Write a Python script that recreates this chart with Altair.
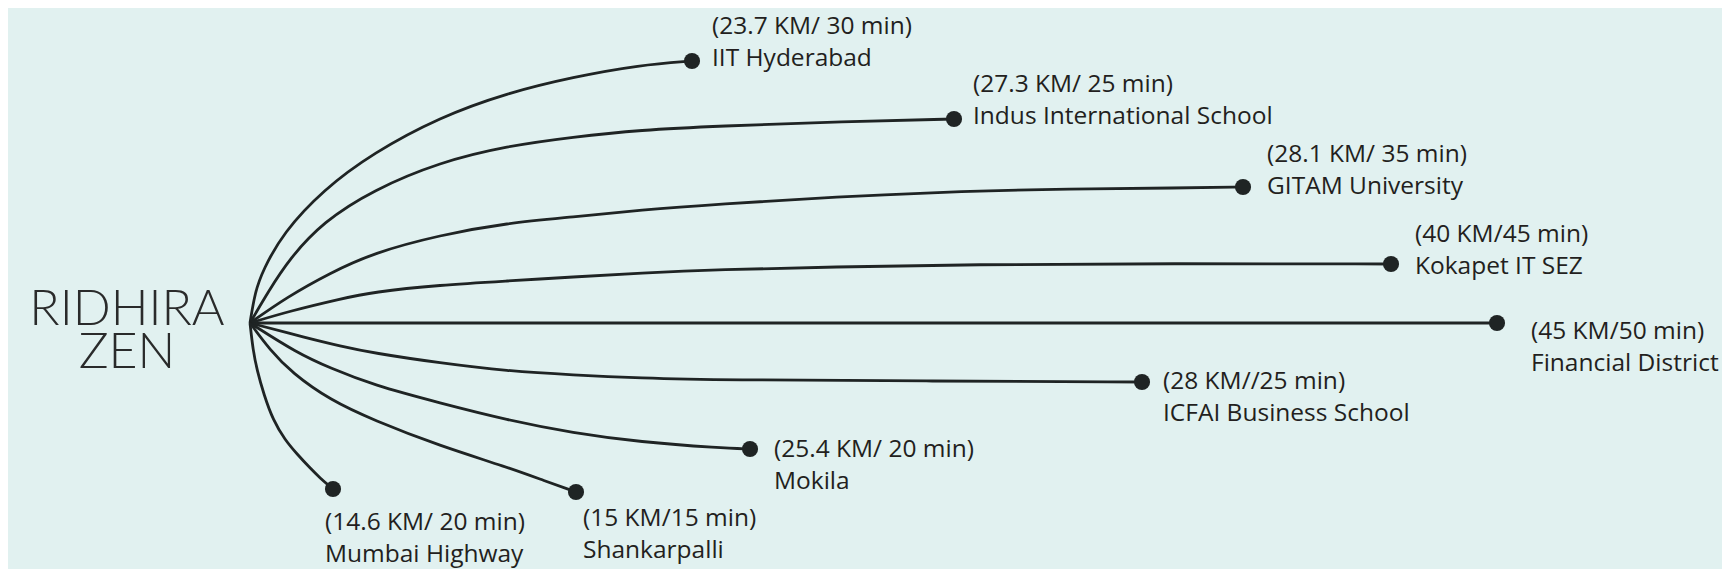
import altair as alt
import pandas as pd

# destinations
names = ["IIT Hyderabad", "Indus International School", "GITAM University", "Kokapet IT SEZ",
         "Financial District", "ICFAI Business School", "Mokila", "Shankarpalli", "Mumbai Highway"]
trips = ["(23.7 KM/ 30 min)", "(27.3 KM/ 25 min)", "(28.1 KM/ 35 min)", "(40 KM/45 min)",
         "(45 KM/50 min)", "(28 KM//25 min)", "(25.4 KM/ 20 min)", "(15 KM/15 min)", "(14.6 KM/ 20 min)"]

# end-point dots (picture coordinates)
dot_x = [692, 954, 1243, 1391, 1497, 1142, 750, 576, 333]
dot_y = [61, 119, 187, 264, 323, 382, 449, 492, 489]

# label anchors (left edge, first-line baseline)
label_x = [712, 973, 1267, 1415, 1531, 1163, 774, 583, 325]
label_y = [33.5, 91.5, 161.5, 241.5, 339, 389, 457, 526, 530]

# connector paths
path_x = [
    [250, 255, 263, 283, 323, 373, 440, 507, 573, 640, 692],
    [250, 268, 290, 323, 373, 440, 507, 573, 640, 720, 833, 954],
    [250, 287, 330, 373, 440, 507, 573, 640, 720, 833, 967, 1067, 1180, 1243],
    [250, 290, 340, 373, 440, 507, 573, 640, 720, 833, 967, 1180, 1391],
    [250, 1497],
    [250, 307, 340, 373, 440, 507, 573, 640, 720, 933, 1142],
    [250, 297, 330, 373, 440, 507, 573, 640, 720, 750],
    [250, 270, 292, 330, 373, 440, 507, 545, 576],
    [250, 253, 257, 264, 273, 285, 297, 310, 320, 333],
]
path_y = [
    [323, 292, 270, 233, 190, 153, 117, 93, 77, 65, 61],
    [323, 292, 258, 222, 190, 162, 146, 137, 130, 126, 122, 119],
    [323, 297, 273, 253, 235, 223, 217, 210, 204, 197, 191, 189, 188, 187],
    [323, 311, 299, 292, 285, 281, 277, 273, 269.5, 267, 264.5, 263.5, 264],
    [323, 323],
    [323, 338, 346, 353, 363, 371, 375, 378, 380, 381, 382],
    [323, 353, 368, 385, 403, 420, 433, 442, 448, 449],
    [323, 350, 373, 400, 420, 446, 467, 481, 492],
    [323, 350, 370, 395, 420, 440, 454, 468, 478, 489],
]

logo_words = ["RIDHIRA", "ZEN"]
logo_x = [127, 127]
logo_y = [325, 368]

rows = []
for n, xs_, ys_ in zip(names, path_x, path_y):
    for k, (px, py) in enumerate(zip(xs_, ys_)):
        rows.append({"name": n, "k": k, "x": px, "y": py})
paths = pd.DataFrame(rows)

dots = pd.DataFrame({"name": names, "x": dot_x, "y": dot_y})
labels = pd.DataFrame({"x": label_x, "y": label_y,
                       "text": [t + "\n" + n for t, n in zip(trips, names)]})
logo = pd.DataFrame({"x": logo_x, "y": logo_y, "text": logo_words})

xs = alt.Scale(domain=[8, 1722], nice=False, zero=False)
ys = alt.Scale(domain=[8, 569], reverse=True, nice=False, zero=False)

INK = "#1f2424"

lines = alt.Chart(paths).mark_line(interpolate="basis", strokeWidth=2.8, color=INK).encode(
    x=alt.X("x:Q", scale=xs, axis=None),
    y=alt.Y("y:Q", scale=ys, axis=None),
    detail="name:N",
    order="k:Q",
)

points = alt.Chart(dots).mark_circle(size=260, color=INK, opacity=1).encode(
    x=alt.X("x:Q", scale=xs, axis=None),
    y=alt.Y("y:Q", scale=ys, axis=None),
)

texts = alt.Chart(labels).mark_text(
    align="left", baseline="alphabetic", lineBreak="\n", lineHeight=32,
    font="Open Sans", fontSize=24.5, color="#231f20",
).encode(
    x=alt.X("x:Q", scale=xs, axis=None),
    y=alt.Y("y:Q", scale=ys, axis=None),
    text="text:N",
)

brand = alt.Chart(logo).mark_text(
    align="center", baseline="alphabetic", font="Lato", fontSize=50, fontWeight=300, color="#2a2b2b",
).encode(
    x=alt.X("x:Q", scale=xs, axis=None),
    y=alt.Y("y:Q", scale=ys, axis=None),
    text="text:N",
)

chart = alt.layer(lines, points, texts, brand).properties(
    width=1714, height=561, padding=0,
    autosize=alt.AutoSizeParams(type="none"),
    background="#e1f1f0",
).configure_view(stroke=None)

chart.save("out.html", embed_options={"renderer": "svg", "actions": False})
